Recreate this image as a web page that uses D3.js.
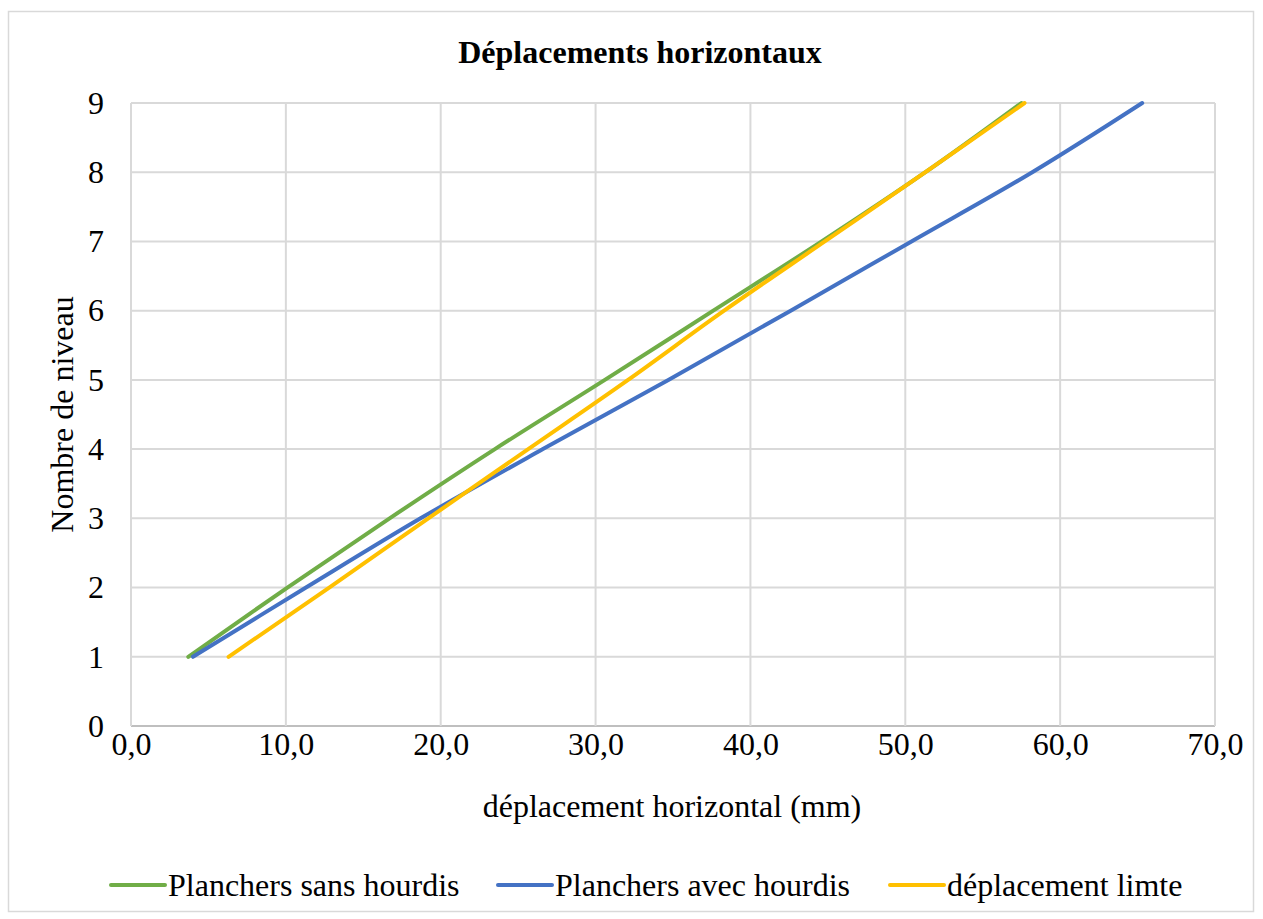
<!DOCTYPE html>
<html>
<head>
<meta charset="utf-8">
<script src="https://cdn.jsdelivr.net/npm/d3@7"></script>
<style>
  html, body { margin: 0; padding: 0; background: #ffffff; }
  svg { display: block; }
</style>
</head>
<body>
<svg id="chart" width="1263" height="919"></svg>
<script>
// ---- data ----
const levels = [1, 2, 3, 4, 5, 6, 7, 8, 9];
const sansHourdis = [3.7, 10.1, 16.7, 23.5, 30.6, 37.6, 44.6, 51.3, 57.5];
const avecHourdis = [4.0, 11.3, 18.7, 26.6, 34.7, 42.6, 50.4, 58.2, 65.3];
const deplacementLimite = [6.3, 12.8, 19.2, 25.65, 32.1, 38.3, 44.8, 51.3, 57.7];
const seriesNames = ["Planchers sans hourdis", "Planchers avec hourdis", "déplacement limte"];
const xTicks = [0, 10, 20, 30, 40, 50, 60, 70];
const yTicks = [0, 1, 2, 3, 4, 5, 6, 7, 8, 9];
const chartTitle = "Déplacements horizontaux";
const xTitle = "déplacement horizontal (mm)";
const yTitle = "Nombre de niveau";

const colors = ["#70ad47", "#4472c4", "#ffc000"];
const seriesValues = [sansHourdis, avecHourdis, deplacementLimite];

const svg = d3.select("#chart");
const font = "'Liberation Serif', 'Times New Roman', serif";
const fs = 32;

// chart border
svg.append("rect")
  .attr("x", 8.5).attr("y", 11.5)
  .attr("width", 1245).attr("height", 900)
  .attr("fill", "#fff").attr("stroke", "#d9d9d9").attr("stroke-width", 1.5);

const plot = { left: 131, right: 1215, top: 103, bottom: 726 };
const x = d3.scaleLinear().domain([0, 70]).range([plot.left, plot.right]);
const y = d3.scaleLinear().domain([0, 9]).range([plot.bottom, plot.top]);

// gridlines
const g = svg.append("g");
g.selectAll("line.h").data(yTicks).join("line")
  .attr("x1", plot.left).attr("x2", plot.right)
  .attr("y1", d => y(d)).attr("y2", d => y(d))
  .attr("stroke", d => d === 0 ? "#bfbfbf" : "#d9d9d9").attr("stroke-width", 2);
g.selectAll("line.v").data(xTicks).join("line")
  .attr("y1", plot.top).attr("y2", plot.bottom)
  .attr("x1", d => x(d)).attr("x2", d => x(d))
  .attr("stroke", "#d9d9d9").attr("stroke-width", 2);

// axes (labels only)
const xAxis = d3.axisBottom(x).tickValues(xTicks).tickSize(0).tickPadding(6)
  .tickFormat(d => d3.format(".1f")(d).replace(".", ","));
const xg = svg.append("g").attr("transform", `translate(0,${plot.bottom})`).call(xAxis);
xg.select(".domain").remove();
xg.selectAll("text").attr("font-family", font).attr("font-size", fs).attr("fill", "#000");

const yAxis = d3.axisLeft(y).tickValues(yTicks).tickSize(0).tickPadding(27)
  .tickFormat(d3.format("d"));
const yg = svg.append("g").attr("transform", `translate(${plot.left},0)`).call(yAxis);
yg.select(".domain").remove();
yg.selectAll("text").attr("font-family", font).attr("font-size", fs).attr("fill", "#000");

// lines
const line = d3.line()
  .x(d => x(d[0]))
  .y(d => y(d[1]))
  .curve(d3.curveCatmullRom.alpha(0.5));

seriesValues.forEach((vals, i) => {
  svg.append("path")
    .datum(vals.map((v, j) => [v, levels[j]]))
    .attr("d", line)
    .attr("fill", "none")
    .attr("stroke", colors[i])
    .attr("stroke-width", 4)
    .attr("stroke-linecap", "round");
});

// titles
svg.append("text").attr("x", 640).attr("y", 63)
  .attr("text-anchor", "middle").attr("font-family", font)
  .attr("font-weight", "bold").attr("font-size", fs).text(chartTitle);

svg.append("text").attr("x", 672).attr("y", 817)
  .attr("text-anchor", "middle").attr("font-family", font)
  .attr("font-size", fs).text(xTitle);

svg.append("text")
  .attr("transform", `translate(73,${(plot.top + plot.bottom) / 2}) rotate(-90)`)
  .attr("text-anchor", "middle").attr("font-family", font)
  .attr("font-size", fs).text(yTitle);

// legend
const legendX = [111, 498, 890];
const leg = svg.append("g");
seriesNames.forEach((name, i) => {
  const lg = leg.append("g").attr("transform", `translate(${legendX[i]},885)`);
  lg.append("line").attr("x1", 0).attr("x2", 54).attr("y1", 0).attr("y2", 0)
    .attr("stroke", colors[i]).attr("stroke-width", 4).attr("stroke-linecap", "round");
  lg.append("text").attr("x", 57).attr("y", 11)
    .attr("font-family", font).attr("font-size", fs).text(name);
});
</script>
</body>
</html>
